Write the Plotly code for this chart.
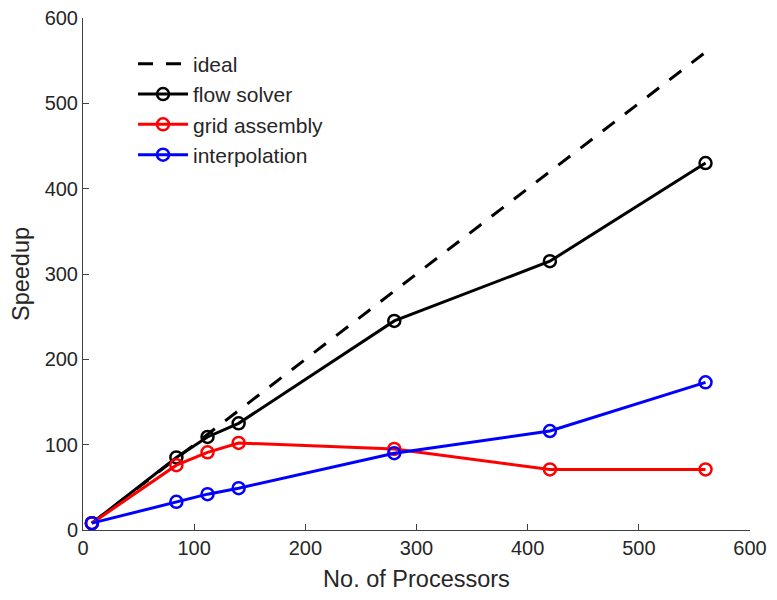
import plotly.graph_objects as go

processors = [8, 84, 112, 140, 280, 420, 560]
ideal = [8, 84, 112, 140, 280, 420, 560]
flow_solver = [8, 85, 109, 125, 245, 315, 430]
grid_assembly = [8, 76, 91, 102, 95, 71, 71]
interpolation = [8, 33, 42, 49, 90, 116, 173]

x_ticks = [0, 100, 200, 300, 400, 500, 600]
y_ticks = [0, 100, 200, 300, 400, 500, 600]

fig = go.Figure()
fig.add_trace(go.Scatter(x=processors, y=ideal, mode="lines", name="ideal",
                         line=dict(color="black", width=3, dash="15px,13px")))
marker = dict(symbol="circle-open", size=12, line=dict(width=2.5))
fig.add_trace(go.Scatter(x=processors, y=flow_solver, mode="lines+markers", name="flow solver",
                         line=dict(color="black", width=3), marker=dict(color="black", **marker)))
fig.add_trace(go.Scatter(x=processors, y=grid_assembly, mode="lines+markers", name="grid assembly",
                         line=dict(color="red", width=3), marker=dict(color="red", **marker)))
fig.add_trace(go.Scatter(x=processors, y=interpolation, mode="lines+markers", name="interpolation",
                         line=dict(color="blue", width=3), marker=dict(color="blue", **marker)))

axis_common = dict(showgrid=False, zeroline=False, showline=True, linecolor="#404040", linewidth=1,
                   ticks="inside", ticklen=6, tickcolor="#404040", automargin=False,
                   ticklabeloverflow="allow",
                   tickfont=dict(size=20, color="#262626"), mirror=False)

fig.update_layout(
    width=761, height=584,
    paper_bgcolor="white", plot_bgcolor="white",
    margin=dict(l=75, r=19, t=10, b=62),
    font=dict(family="Liberation Sans, Arial, sans-serif", color="#262626"),
    xaxis=dict(range=[0, 600], tickvals=x_ticks, title=dict(text="No. of Processors", font=dict(size=23.5), standoff=21), **axis_common),
    yaxis=dict(range=[0, 600], tickvals=y_ticks, title=dict(text="Speedup", font=dict(size=23.5), standoff=10), **axis_common),
    legend=dict(x=0.075, y=0.95, xanchor="left", yanchor="top", bgcolor="rgba(0,0,0,0)",
                font=dict(size=21, color="#262626"), tracegroupgap=0, itemwidth=50),
    showlegend=True,
)

fig.write_html("out.html")
